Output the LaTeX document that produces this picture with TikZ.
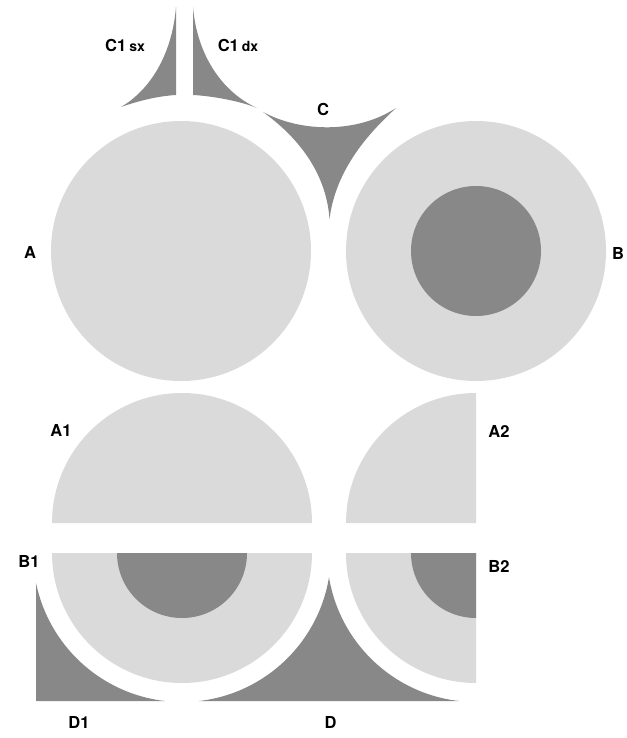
\documentclass[tikz,border=0pt]{standalone}
\usepackage{fontspec}
\setmainfont{TeX Gyre Heros}
\definecolor{lightgrey}{RGB}{218,218,218}
\definecolor{darkgrey}{RGB}{136,136,136}
\newcommand{\ringr}{149}
\newcommand{\subfont}{\fontsize{14}{14}\selectfont}

\begin{document}
\begin{tikzpicture}[x = 1pt, y = -1pt,
  lightpart/.style = {fill = lightgrey},
  darkpart/.style = {fill = darkgrey},
  lbl/.style = {font = \fontsize{16.5}{16.5}\selectfont\bfseries, inner sep = 0pt}]

\useasboundingbox (0,0) rectangle (626,738);

\fill[lightpart] (181,251) circle [radius = 130];
\fill[lightpart] (476,251) circle [radius = 130];
\fill[darkpart] (476,251) circle [radius = 65];

\fill[darkpart] (176,7) -- (176,95) .. controls (158,96) and (138,101) .. (121,107) .. controls (150,90) and (172,55) .. (176,7) -- cycle;
\fill[darkpart] (193,7) -- (193,95) .. controls (212,96) and (240,101) .. (257,108) .. controls (222,92) and (197,55) .. (193,7) -- cycle;
\fill[darkpart] (263,112) .. controls (302,133) and (358,133) .. (396,108) .. controls (370,132) and (336,168) .. (329.5,219) .. controls (326,170) and (295,135) .. (263,112) -- cycle;

\fill[lightpart] (52,523) arc [start angle = 180, end angle = 360, radius = 130] -- cycle;
\fill[lightpart] (346,523) arc [start angle = 180, end angle = 270, radius = 130] -- (476,523) -- cycle;

\fill[lightpart] (52,553) arc [start angle = 180, end angle = 0, radius = 130] -- cycle;
\fill[darkpart] (117,553) arc [start angle = 180, end angle = 0, radius = 65] -- cycle;
\fill[lightpart] (346,553) arc [start angle = 180, end angle = 90, radius = 130] -- (476,553) -- cycle;
\fill[darkpart] (411,553) arc [start angle = 180, end angle = 90, radius = 65] -- (476,553) -- cycle;

\fill[darkpart] (182,553) ++(168.44:\ringr) arc [start angle = 168.44, end angle = 96.64, radius = \ringr] -- (36,701) -- cycle;
\fill[darkpart] (182,553) ++(83.36:\ringr) arc [start angle = 83.36, end angle = 9.37, radius = \ringr] arc [start angle = 170.63, end angle = 96.64, radius = \ringr] -- cycle;

\node[lbl] (la) at (30,252) {A};
\node[lbl] (lb) at (618,253) {B};
\node[lbl] (lc) at (323,109) {C};
\node[lbl] (lcsx) at (125,45) {C1\hspace{3pt}{\subfont sx}};
\node[lbl] (lcdx) at (238,45) {C1\hspace{3pt}{\subfont dx}};
\node[lbl] (la1) at (61,430) {A1};
\node[lbl] (la2) at (499,431) {A2};
\node[lbl] (lb1) at (29,561) {B1};
\node[lbl] (lb2) at (499,566) {B2};
\node[lbl] (ld1) at (79,722) {D1};
\node[lbl] (ld) at (330.5,722) {D};
\end{tikzpicture}
\end{document}
